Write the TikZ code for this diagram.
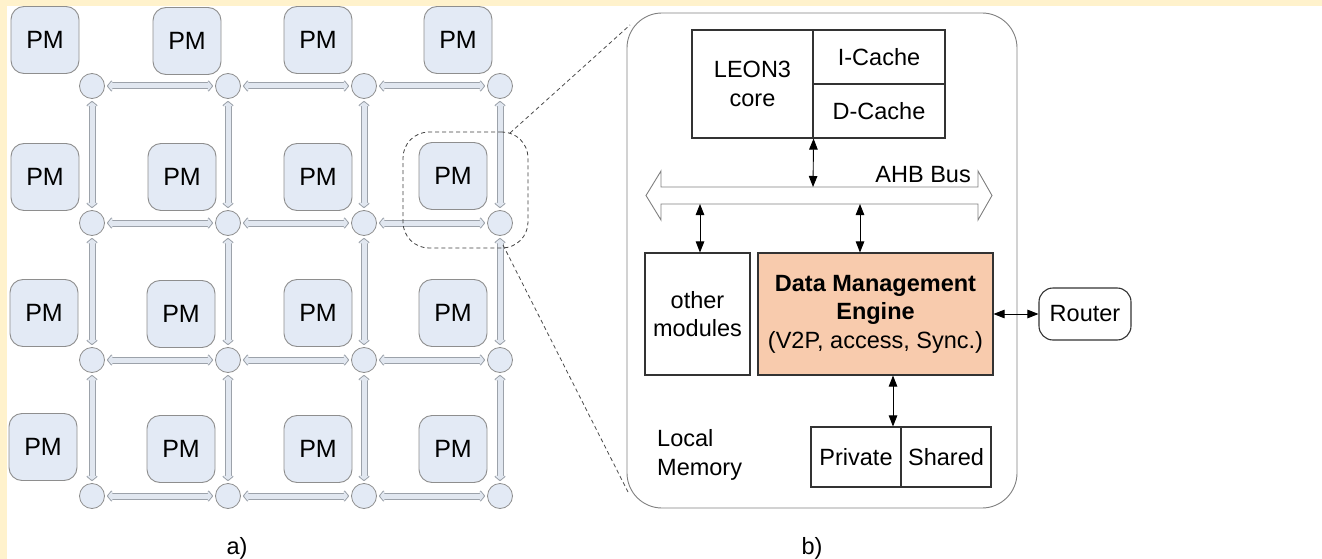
\documentclass[tikz,border=0pt]{standalone}
\usepackage{fontspec}
\setmainfont{Liberation Sans}
\usetikzlibrary{arrows.meta}
\definecolor{bgyellow}{HTML}{FFF2CC}
\definecolor{pmfill}{HTML}{E3EAF5}
\definecolor{pmedge}{HTML}{8E8E8E}
\definecolor{linkedge}{HTML}{9CA2AA}
\definecolor{linkfill}{HTML}{E1E7F0}
\definecolor{dmefill}{HTML}{F8CBAD}
\definecolor{boxedge}{HTML}{333333}
\definecolor{paneledge}{HTML}{808080}
\newcommand\meshlink[2]{\draw[linkout] (#1) -- (#2); \draw[linkin] (#1) -- (#2);}
\begin{document}
\begin{tikzpicture}[x=1pt,y=-1pt,
  pm/.style={draw=pmedge, fill=pmfill, rounded corners=13pt, minimum width=68pt, minimum height=67pt, inner sep=0pt, line width=0.9pt, font=\fontsize{25}{30}\selectfont},
  rt/.style={circle, draw=pmedge, fill=pmfill, minimum size=25pt, inner sep=0pt, line width=0.8pt},
  linkout/.style={draw=linkedge, line width=7pt, {Triangle[round,length=5.5pt,width=13pt]}-{Triangle[round,length=5.5pt,width=13pt]}, shorten <=2pt, shorten >=2pt},
  linkin/.style={draw=linkfill, line width=5pt, {Triangle[round,length=4.2pt,width=10.4pt]}-{Triangle[round,length=4.2pt,width=10.4pt]}, shorten <=3.3pt, shorten >=3.3pt},
  txt/.style={font=\fontsize{23.5}{28.5}\selectfont, inner sep=0pt},
  blk/.style={draw=boxedge, line width=1.1pt, inner sep=0pt, align=center, font=\fontsize{23.5}{28.5}\selectfont},
  biarrow/.style={draw=black, line width=0.9pt, {Triangle[length=11pt,width=8.5pt]}-{Triangle[length=11pt,width=8.5pt]}},
  zoomline/.style={draw=black!70, line width=0.8pt, dash pattern=on 4pt off 3pt}
]
\useasboundingbox (0,0) rectangle (1322,559);
\fill[white] (0,0) rectangle (1322,559);
\fill[bgyellow] (0,0) rectangle (1322,6);
\fill[bgyellow] (0,0) rectangle (7,559);

% ---- a) mesh ----
\foreach \i/\y in {1/86,2/223,3/360,4/496}
  \foreach \j/\x in {1/92,2/228,3/364,4/500}
    \node[rt] (r\i\j) at (\x,\y) {};

\node[pm] (p11) at (45,40) {PM};
\node[pm] (p12) at (187,41) {PM};
\node[pm] (p13) at (318,40) {PM};
\node[pm] (p14) at (458,40) {PM};
\node[pm] (p21) at (45,177) {PM};
\node[pm] (p22) at (182,177) {PM};
\node[pm] (p23) at (318,177) {PM};
\node[pm] (p24) at (453,176) {PM};
\node[pm] (p31) at (44,313) {PM};
\node[pm] (p32) at (181,314) {PM};
\node[pm] (p33) at (318,313) {PM};
\node[pm] (p34) at (453,313) {PM};
\node[pm] (p41) at (43,447) {PM};
\node[pm] (p42) at (181,449) {PM};
\node[pm] (p43) at (318,449) {PM};
\node[pm] (p44) at (453,449) {PM};

\foreach \i in {1,2,3,4}{
  \meshlink{r\i1}{r\i2}
  \meshlink{r\i2}{r\i3}
  \meshlink{r\i3}{r\i4}
}
\foreach \j in {1,2,3,4}{
  \meshlink{r1\j}{r2\j}
  \meshlink{r2\j}{r3\j}
  \meshlink{r3\j}{r4\j}
}

\node[draw=black!75, line width=0.8pt, dash pattern=on 4pt off 3pt, rounded corners=26pt, minimum width=125pt, minimum height=116pt, inner sep=0pt] (zoomarea) at (465.5,190) {};
\node[txt] (la) at (237,548) {a)};

% ---- b) processing element ----
\node[draw=paneledge, line width=0.9pt, rounded corners=35pt, minimum width=390pt, minimum height=495pt, inner sep=0pt] (pe) at (822,260.5) {};

\coordinate (zt1) at (510,133);
\coordinate (zt2) at (630,25);
\coordinate (zb1) at (503,245);
\coordinate (zb2) at (628,492);
\draw[zoomline] (zt1) -- (zt2);
\draw[zoomline] (zb1) -- (zb2);

\node[blk, minimum width=121pt, minimum height=108pt] (leon) at (752.5,84) {LEON3\\core};
\node[blk, minimum width=132pt, minimum height=54pt] (icache) at (879,57) {I-Cache};
\node[blk, minimum width=132pt, minimum height=54pt] (dcache) at (879,111) {D-Cache};

% AHB bus
\draw[draw=paneledge, line width=0.9pt, fill=white]
  (646,195.5) -- (661,171) -- (661,187) -- (978,187) -- (978,171) -- (992,195.5)
  -- (978,220) -- (978,204) -- (661,204) -- (661,220) -- cycle;
\node[txt, anchor=base east] (ahb) at (971,182) {AHB Bus};
\coordinate (busT) at (813,187);
\coordinate (busB1) at (700,204);
\coordinate (busB2) at (860,204);

\node[blk, minimum width=105pt, minimum height=122pt] (others) at (697.5,314) {other\\modules};
\node[blk, fill=dmefill, minimum width=235pt, minimum height=122pt] (dme) at (875.5,314)
  {\textbf{Data Management}\\\textbf{Engine}\\(V2P, access, Sync.)};
\node[blk, rounded corners=14pt, minimum width=92pt, minimum height=52pt] (router) at (1085,314) {Router};
\node[blk, minimum width=90pt, minimum height=60pt] (private) at (856,457) {Private};
\node[blk, minimum width=90pt, minimum height=60pt] (shared) at (946,457) {Shared};
\node[txt, anchor=west, align=left] (lmem) at (657,455) {Local\\Memory};

\draw[biarrow] (leon.south east) -- (busT);
\draw[biarrow] (busB1) -- (busB1 |- others.north);
\draw[biarrow] (busB2) -- (busB2 |- dme.north);
\draw[biarrow] (dme.east) -- (router.west);
\draw[biarrow] (dme.south -| 893,0) -- (private.north -| 893,0);

\node[txt] (lb) at (812,548) {b)};
\end{tikzpicture}
\end{document}
